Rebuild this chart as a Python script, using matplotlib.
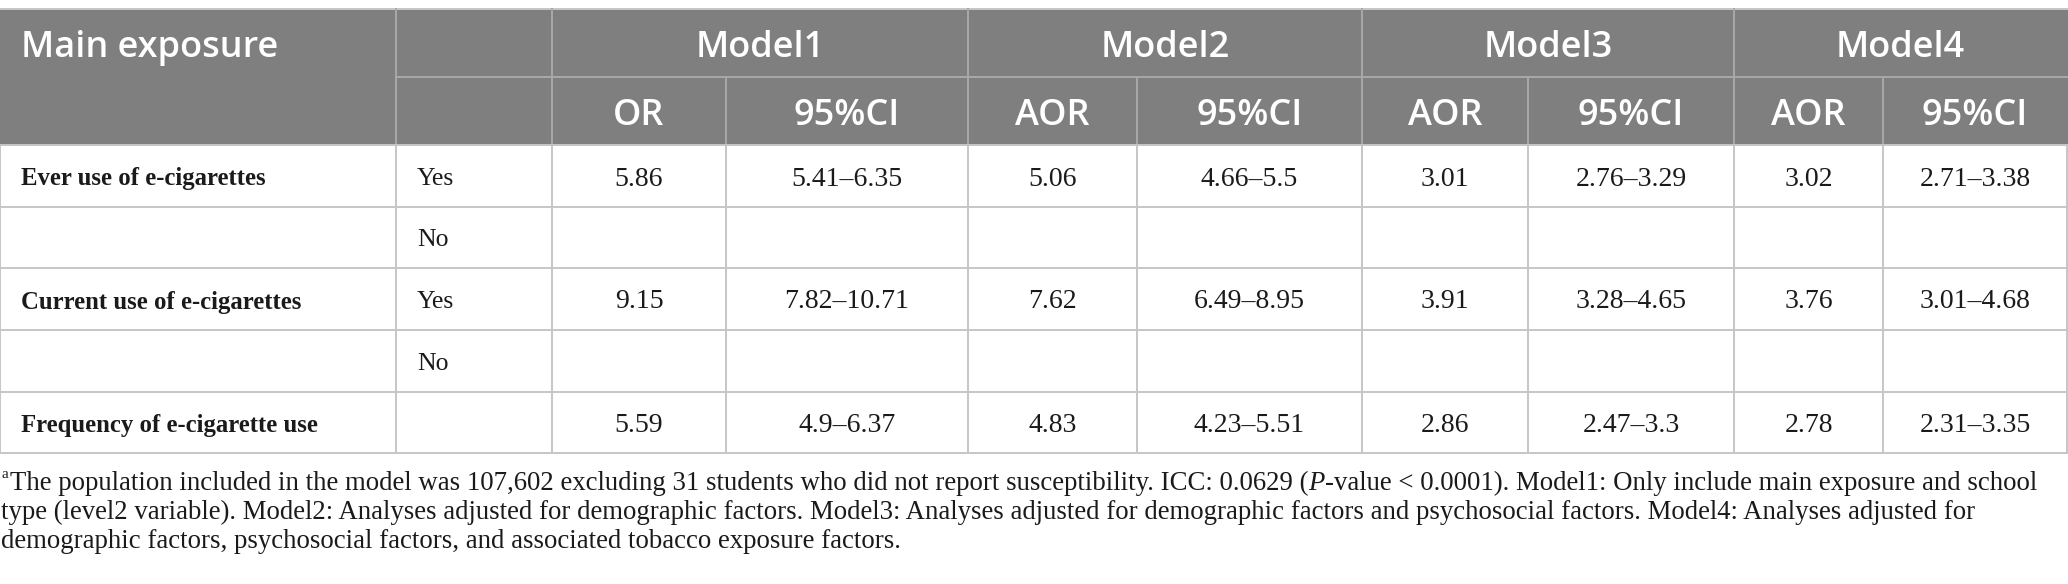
import matplotlib
matplotlib.use("Agg")
from matplotlib import pyplot as plt
from matplotlib.patches import Rectangle

# table content
exposures = ["Ever use of e-cigarettes", "", "Current use of e-cigarettes", "", "Frequency of e-cigarette use"]
levels = ["Yes", "No", "Yes", "No", ""]
model_names = ["Model1", "Model2", "Model3", "Model4"]
sub_headers = ["OR", "95%CI", "AOR", "95%CI", "AOR", "95%CI", "AOR", "95%CI"]
or_m1 = ["5.86", "", "9.15", "", "5.59"]
ci_m1 = ["5.41–6.35", "", "7.82–10.71", "", "4.9–6.37"]
aor_m2 = ["5.06", "", "7.62", "", "4.83"]
ci_m2 = ["4.66–5.5", "", "6.49–8.95", "", "4.23–5.51"]
aor_m3 = ["3.01", "", "3.91", "", "2.86"]
ci_m3 = ["2.76–3.29", "", "3.28–4.65", "", "2.47–3.3"]
aor_m4 = ["3.02", "", "3.76", "", "2.78"]
ci_m4 = ["2.71–3.38", "", "3.01–4.68", "", "2.31–3.35"]

foot_1a = "The population included in the model was 107,602 excluding 31 students who did not report susceptibility. ICC: 0.0629 ("
foot_1b = "P"
foot_1c = "-value < 0.0001). Model1: Only include main exposure and school"
foot_2 = "type (level2 variable). Model2: Analyses adjusted for demographic factors. Model3: Analyses adjusted for demographic factors and psychosocial factors. Model4: Analyses adjusted for"
foot_3 = "demographic factors, psychosocial factors, and associated tobacco exposure factors."

# layout in pixels
W, H = 2068, 584
col_edges = [0, 396, 552, 726, 968, 1137, 1362, 1528, 1734, 1883, 2067]
row_edges = [9, 77, 145, 207, 268, 330, 392, 453]

header_bg = "#7f7f7f"
header_line = "#a9a9a9"
body_line = "#c6c6c6"
text_col = "#1a1a1a"
serif = "Liberation Serif"
sans = "Open Sans"

fig = plt.figure(figsize=(W / 100, H / 100), dpi=100)
ax = fig.add_axes([0, 0, 1, 1])
ax.set_xlim(0, W)
ax.set_ylim(H, 0)
ax.axis("off")

# header block
ax.add_patch(Rectangle((0, row_edges[0]), W, row_edges[2] - row_edges[0], facecolor=header_bg, edgecolor="none"))
ax.plot([0, W], [row_edges[0], row_edges[0]], color=body_line, lw=1.4)
ax.plot([col_edges[1], W], [row_edges[1], row_edges[1]], color=header_line, lw=1.4)
for i, x in enumerate(col_edges[1:-1], start=1):
    if i >= 2 and i % 2 == 1:
        ax.plot([x, x], [row_edges[1], row_edges[2]], color=header_line, lw=1.4)
    else:
        ax.plot([x, x], [row_edges[0], row_edges[2]], color=header_line, lw=1.4)

hdr_kw = dict(family=sans, fontsize=26, color="white", weight="semibold", va="center")
ax.text(21, (row_edges[0] + row_edges[1]) / 2 + 5, "Main exposure", ha="left", **hdr_kw)
for k, name in enumerate(model_names):
    x0, x1 = col_edges[2 + 2 * k], col_edges[4 + 2 * k]
    ax.text((x0 + x1) / 2, (row_edges[0] + row_edges[1]) / 2 + 5, name, ha="center", **hdr_kw)
for j, lab in enumerate(sub_headers):
    x0, x1 = col_edges[2 + j], col_edges[3 + j]
    ax.text((x0 + x1) / 2, (row_edges[1] + row_edges[2]) / 2 + 5, lab, ha="center", **hdr_kw)

# body grid
for y in row_edges[2:]:
    ax.plot([0, W], [y, y], color=body_line, lw=1.4)
for x in col_edges:
    ax.plot([x, x], [row_edges[2], row_edges[-1]], color=body_line, lw=1.4)

value_cols = [or_m1, ci_m1, aor_m2, ci_m2, aor_m3, ci_m3, aor_m4, ci_m4]
body_kw = dict(family=serif, color=text_col, va="center")
for r in range(len(levels)):
    yc = (row_edges[2 + r] + row_edges[3 + r]) / 2 + 3
    ax.text(21, yc, exposures[r], ha="left", weight="bold", fontsize=17.8, **body_kw)
    ax.text(col_edges[1] + 21, yc, levels[r], ha="left", fontsize=18.5, **body_kw)
    for j, col in enumerate(value_cols):
        x0, x1 = col_edges[2 + j], col_edges[3 + j]
        ax.text((x0 + x1) / 2, yc, col[r], ha="center", fontsize=20, **body_kw)

# footnote
fkw = dict(family=serif, fontsize=19.3, color=text_col, va="baseline", ha="left")
ax.text(2, 478, "a", family=serif, fontsize=11, color=text_col, va="baseline", ha="left")
fig.canvas.draw()
renderer = fig.canvas.get_renderer()
x = 10
for piece, style in [(foot_1a, "normal"), (foot_1b, "italic"), (foot_1c, "normal")]:
    t = ax.text(x, 490, piece, style=style, **fkw)
    x += t.get_window_extent(renderer).width
ax.text(1, 519, foot_2, **fkw)
ax.text(1, 548, foot_3, **fkw)

fig.savefig("out.png", dpi=100)
